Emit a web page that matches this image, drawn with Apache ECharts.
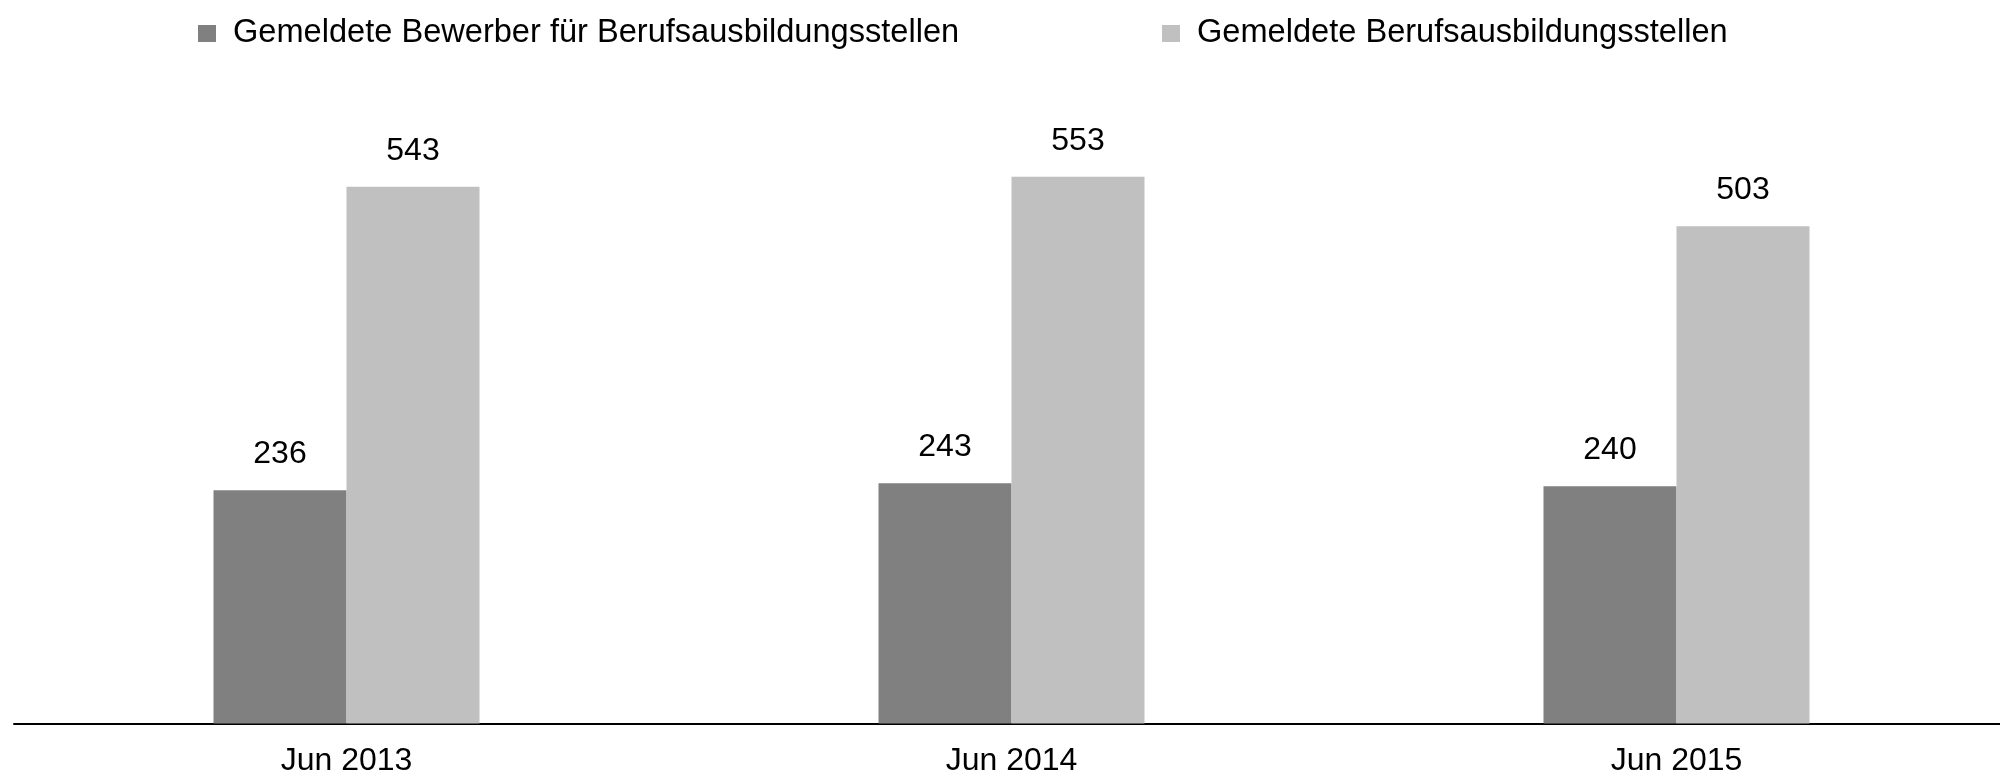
<!DOCTYPE html>
<html>
<head>
<meta charset="utf-8">
<script src="https://cdn.jsdelivr.net/npm/echarts@6/dist/echarts.min.js"></script>
<style>
html,body{margin:0;padding:0;background:#fff;}
#chart{width:2000px;height:779px;}
</style>
</head>
<body>
<div id="chart"></div>
<script>
const categories = ['Jun 2013', 'Jun 2014', 'Jun 2015'];
const seriesNames = ['Gemeldete Bewerber für Berufsausbildungsstellen', 'Gemeldete Berufsausbildungsstellen'];
const bewerber = [236, 243, 240];
const stellen = [543, 553, 503];

const FONT = '"Liberation Sans", Arial, sans-serif';
const chart = echarts.init(document.getElementById('chart'), null, {renderer: 'canvas'});

const labelStyle = {
  show: true,
  position: 'top',
  distance: 20,
  color: '#000',
  fontFamily: FONT,
  fontSize: 32
};

chart.setOption({
  animation: false,
  backgroundColor: '#ffffff',
  color: ['#808080', '#c0c0c0'],
  legend: [
    {
      data: [seriesNames[0]],
      left: 193, top: 12,
      icon: 'rect', itemWidth: 18, itemHeight: 17,
      textStyle: {fontFamily: FONT, fontSize: 32.6, color: '#000', padding: [0, 0, 0, 12]},
      selectedMode: false
    },
    {
      data: [seriesNames[1]],
      left: 1157, top: 12,
      icon: 'rect', itemWidth: 18, itemHeight: 17,
      textStyle: {fontFamily: FONT, fontSize: 32.6, color: '#000', padding: [0, 0, 0, 12]},
      selectedMode: false
    }
  ],
  grid: {left: 14, right: -9, top: 31.5, bottom: 55.5, containLabel: false, outerBoundsMode: 'none'},
  xAxis: {
    type: 'category',
    data: categories,
    axisLine: {show: true, lineStyle: {color: '#000', width: 2}},
    axisTick: {show: false},
    axisLabel: {fontFamily: FONT, fontSize: 32, color: '#000', margin: 22}
  },
  yAxis: {
    type: 'value',
    min: 0, max: 700,
    show: false,
    splitLine: {show: false}
  },
  series: [
    {
      name: seriesNames[0], type: 'bar', data: bewerber,
      barWidth: 133, barGap: '0%',
      itemStyle: {color: '#808080'},
      label: labelStyle
    },
    {
      name: seriesNames[1], type: 'bar', data: stellen,
      barWidth: 133, barGap: '0%',
      itemStyle: {color: '#c0c0c0'},
      label: labelStyle
    }
  ]
});
</script>
</body>
</html>
